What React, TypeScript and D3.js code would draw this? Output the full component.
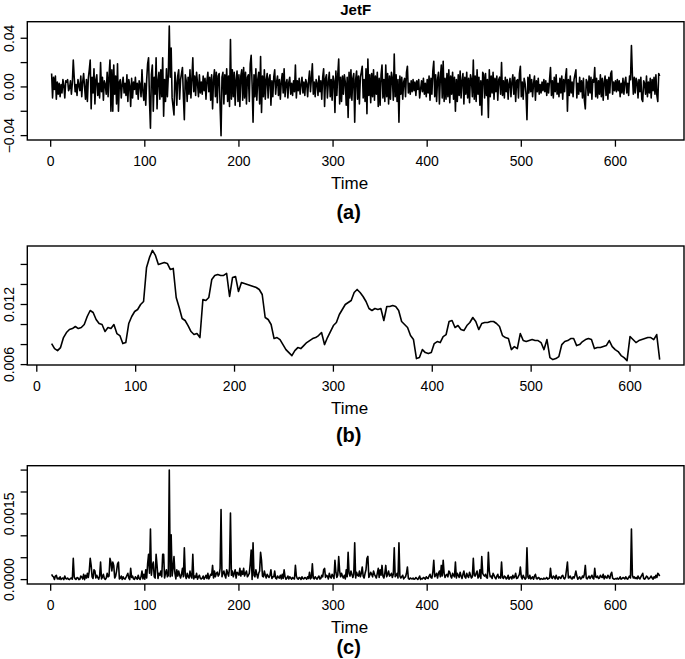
import React from 'react';
import * as d3 from 'd3';

// JetF daily returns, t = 1..647, in units of 0.001
const jetfReturns = [
  11, -9, 8, -2, 9, -10, 4, -6, 3, -8,
  2, -5, 6, 1, -9, 5, 4, 6, -3, -1,
  5, -6, 3, 22, 8, -4, 2, -7, 6, 1,
  -3, 9, -8, 4, 11, 0, -10, 6, -12, 7,
  14, 22, -18, 8, -5, 15, -14, 6, 10, -7,
  3, -9, 20, -4, 8, -11, 5, 2, -6, 12,
  -8, 9, 22, -20, 14, -20, 18, -6, 9, -14,
  19, -20, 4, 6, -9, 2, 8, -5, 3, -7,
  10, -12, 6, 1, -16, 7, -9, 4, -2, 8,
  -6, 3, -10, 5, 2, -8, 14, -4, -11, 3,
  -15, 6, 19, 24, -12, -34, 10, 18, -20, 8,
  -6, 24, -18, 5, 12, -10, 14, -8, 24, -24,
  6, -12, 15, -8, 10, 50, 8, 32, -9, -16,
  -23, 12, 4, -15, 9, 14, -10, 6, 11, 16,
  -8, -27, 10, 5, -12, 8, -6, 14, -9, 6,
  24, -4, 9, -7, 12, 3, -8, 10, -5, 4,
  -6, 9, -3, 7, -10, 5, 12, -4, 8, -11,
  10, -18, 6, 14, -8, 12, -13, 9, 11, -16,
  -40, 8, 12, -14, 10, -6, 15, -12, 9, -16,
  39, -10, 14, -8, 12, -15, 6, 13, -12, 10,
  -16, 9, 14, -11, 16, -9, 12, -14, 8, 10,
  -12, 19, 26, 2, -29, 10, -8, 15, -11, 6,
  12, -14, 25, -21, 9, -8, 14, -10, 6, 11,
  -9, 7, 10, -15, 5, -8, 8, 14, -6, 4,
  9, -7, 6, -10, 4, 11, -5, 15, -8, 3,
  6, -9, 4, 8, -6, 3, -7, 5, -4, 18,
  -9, 5, -3, 7, -6, 2, 8, -5, 4, -7,
  6, 3, -8, 5, 13, -4, 7, 19, -6, 4,
  -8, 6, 3, -7, 9, -4, 5, -10, 8, 15,
  -16, 7, 10, -9, 4, 12, -8, 6, -11, 9,
  5, -21, 13, -7, 10, 23, -14, 8, -12, 9,
  -6, 10, 4, -15, 8, -25, 12, -9, 14, -11,
  7, 11, -29, 6, 13, -10, 9, -14, 8, 12,
  17, -9, 6, -12, 15, -22, 23, -7, 10, -13,
  11, -8, 14, -11, 9, -6, 12, -16, 7, -15,
  10, 18, -9, 6, -12, 18, -8, 11, -14, 9,
  -10, 12, 7, -11, 27, -8, 10, -12, 6, -29,
  9, -6, 8, -10, 4, 7, -8, 12, 17, -5,
  3, -6, 5, -4, 6, -3, 4, -7, 5, -2,
  6, -9, -2, 5, -4, 7, -6, 3, -8, 6,
  -5, 9, -11, 7, -6, 13, 21, -8, 10, -12,
  6, 12, -14, 8, 18, -9, 21, -12, 7, -10,
  11, -8, 14, -13, 9, -6, 12, -10, 8, -20,
  6, -12, 10, -7, 13, -9, 5, 11, -14, 8,
  -6, 12, -9, 7, -13, 10, 6, -8, 22, -10,
  9, -12, 14, -6, 8, -15, 5, -23, 12, 10,
  -9, 11, -7, 6, -25, 14, -8, 9, -5, 12,
  -10, 7, -4, 9, -11, 6, 8, -6, 20, -7,
  5, -9, 8, -4, 6, -10, 3, 7, -8, 4,
  10, -6, 8, -12, 5, 6, -9, 11, 17, -8,
  4, -10, 7, 3, -6, -27, 8, -5, 10, -4,
  6, -8, 3, 9, -11, 5, -4, 7, -6, 2,
  -5, 4, -3, 6, -4, 5, -7, 3, -5, 6,
  16, -7, 5, -9, 8, -4, 10, -6, 3, -8,
  7, -5, 9, -10, 6, -4, 8, 15, -20, 6,
  -7, 9, -5, 4, -8, 6, 10, 14, -9, 3,
  -6, 8, -4, 5, -9, 7, -11, -18, 6, 4,
  -7, 9, -5, 8, -10, 6, 4, 16, -8, 7,
  -9, 5, -6, 10, -8, 7, -11, 4, 9, -7,
  6, -10, 8, -5, 11, 13, -6, 4, -3, 5,
  -4, 6, -3, 5, -8, 3, -5, 7, -6, 4,
  8, -5, 3, -7, 9, 6, 34, 10, -6, 8,
  -5, 7, 4, -9, 6, -4, 8, -10, -12, 5,
  3, -6, 9, -8, 4, -5, 7, -9, 6, -3,
  8, -6, 10, -7, -12, 11, 9,
];

// rolling standard deviation, every 3rd day from t = 15, in units of 0.0001
const volStart = 15;
const volStep = 3;
const jetfVol = [
  81, 76, 74, 77, 87, 92, 95, 96, 98, 96,
  97, 100, 108, 114, 112, 105, 101, 100, 93, 97,
  96, 100, 91, 89, 81, 82, 101, 108, 113, 115,
  120, 123, 157, 167, 174, 169, 160, 161, 162, 161,
  155, 156, 127, 117, 106, 104, 99, 93, 90, 91,
  87, 125, 124, 127, 145, 149, 150, 149, 149, 151,
  128, 147, 148, 133, 142, 141, 140, 139, 138, 137,
  135, 130, 107, 105, 100, 86, 87, 85, 80, 75,
  72, 69, 74, 77, 76, 79, 82, 84, 86, 87,
  89, 92, 80, 87, 93, 99, 102, 110, 115, 120,
  122, 124, 132, 135, 132, 128, 123, 116, 114, 116,
  115, 116, 104, 118, 118, 119, 118, 114, 103, 100,
  97, 89, 85, 66, 67, 75, 72, 71, 72, 81,
  83, 82, 88, 90, 103, 104, 97, 99, 95, 94,
  99, 102, 107, 103, 95, 101, 102, 102, 103, 103,
  101, 98, 89, 87, 86, 75, 78, 76, 91, 84,
  83, 84, 85, 84, 84, 82, 75, 85, 67, 65,
  66, 68, 80, 83, 84, 86, 86, 79, 80, 83,
  85, 86, 85, 76, 77, 77, 78, 79, 84, 78,
  75, 73, 69, 67, 64, 88, 85, 82, 84, 85,
  86, 87, 87, 85, 90, 65,
];

// squared returns, t = 1..647, in units of 1e-6
const jetfSquared = [
  121, 81, 64, 4, 81, 100, 16, 36, 9, 64,
  4, 25, 36, 1, 81, 25, 16, 36, 9, 1,
  25, 36, 9, 484, 64, 16, 4, 49, 36, 1,
  9, 81, 64, 16, 121, 0, 100, 36, 144, 49,
  196, 484, 324, 64, 25, 225, 196, 36, 100, 49,
  9, 81, 400, 16, 64, 121, 25, 4, 36, 144,
  64, 81, 484, 400, 196, 400, 324, 36, 81, 196,
  361, 400, 16, 36, 81, 4, 64, 25, 9, 49,
  100, 144, 36, 1, 256, 49, 81, 16, 4, 64,
  36, 9, 100, 25, 4, 64, 196, 16, 121, 9,
  225, 36, 361, 576, 144, 1156, 100, 324, 400, 64,
  36, 576, 324, 25, 144, 100, 196, 64, 576, 576,
  36, 144, 225, 64, 100, 2500, 64, 1024, 81, 256,
  529, 144, 16, 225, 81, 196, 100, 36, 121, 256,
  64, 729, 100, 25, 144, 64, 36, 196, 81, 36,
  576, 16, 81, 49, 144, 9, 64, 100, 25, 16,
  36, 81, 9, 49, 100, 25, 144, 16, 64, 121,
  100, 324, 36, 196, 64, 144, 169, 81, 121, 256,
  1600, 64, 144, 196, 100, 36, 225, 144, 81, 256,
  1521, 100, 196, 64, 144, 225, 36, 169, 144, 100,
  256, 81, 196, 121, 256, 81, 144, 196, 64, 100,
  144, 361, 676, 4, 841, 100, 64, 225, 121, 36,
  144, 196, 625, 441, 81, 64, 196, 100, 36, 121,
  81, 49, 100, 225, 25, 64, 64, 196, 36, 16,
  81, 49, 36, 100, 16, 121, 25, 225, 64, 9,
  36, 81, 16, 64, 36, 9, 49, 25, 16, 324,
  81, 25, 9, 49, 36, 4, 64, 25, 16, 49,
  36, 9, 64, 25, 169, 16, 49, 361, 36, 16,
  64, 36, 9, 49, 81, 16, 25, 100, 64, 225,
  256, 49, 100, 81, 16, 144, 64, 36, 121, 81,
  25, 441, 169, 49, 100, 529, 196, 64, 144, 81,
  36, 100, 16, 225, 64, 625, 144, 81, 196, 121,
  49, 121, 841, 36, 169, 100, 81, 196, 64, 144,
  289, 81, 36, 144, 225, 484, 529, 49, 100, 169,
  121, 64, 196, 121, 81, 36, 144, 256, 49, 225,
  100, 324, 81, 36, 144, 324, 64, 121, 196, 81,
  100, 144, 49, 121, 729, 64, 100, 144, 36, 841,
  81, 36, 64, 100, 16, 49, 64, 144, 289, 25,
  9, 36, 25, 16, 36, 9, 16, 49, 25, 4,
  36, 81, 4, 25, 16, 49, 36, 9, 64, 36,
  25, 81, 121, 49, 36, 169, 441, 64, 100, 144,
  36, 144, 196, 64, 324, 81, 441, 144, 49, 100,
  121, 64, 196, 169, 81, 36, 144, 100, 64, 400,
  36, 144, 100, 49, 169, 81, 25, 121, 196, 64,
  36, 144, 81, 49, 169, 100, 36, 64, 484, 100,
  81, 144, 196, 36, 64, 225, 25, 529, 144, 100,
  81, 121, 49, 36, 625, 196, 64, 81, 25, 144,
  100, 49, 16, 81, 121, 36, 64, 36, 400, 49,
  25, 81, 64, 16, 36, 100, 9, 49, 64, 16,
  100, 36, 64, 144, 25, 36, 81, 121, 289, 64,
  16, 100, 49, 9, 36, 729, 64, 25, 100, 16,
  36, 64, 9, 81, 121, 25, 16, 49, 36, 4,
  25, 16, 9, 36, 16, 25, 49, 9, 25, 36,
  256, 49, 25, 81, 64, 16, 100, 36, 9, 64,
  49, 25, 81, 100, 36, 16, 64, 225, 400, 36,
  49, 81, 25, 16, 64, 36, 100, 196, 81, 9,
  36, 64, 16, 25, 81, 49, 121, 324, 36, 16,
  49, 81, 25, 64, 100, 36, 16, 256, 64, 49,
  81, 25, 36, 100, 64, 49, 121, 16, 81, 49,
  36, 100, 64, 25, 121, 169, 36, 16, 9, 25,
  16, 36, 9, 25, 64, 9, 25, 49, 36, 16,
  64, 25, 9, 49, 81, 36, 1156, 100, 36, 64,
  25, 49, 16, 81, 36, 16, 64, 100, 144, 25,
  9, 36, 81, 64, 16, 25, 49, 81, 36, 9,
  64, 36, 100, 49, 144, 121, 81,
];

const timeTicks = [0, 100, 200, 300, 400, 500, 600];
const retTicks = [-0.04, -0.02, 0, 0.02, 0.04];
const retTickLabels = ['\u22120.04', '', '0.00', '', '0.04'];
const volTicks = [0.006, 0.008, 0.01, 0.012, 0.014, 0.016];
const volTickLabels = ['0.006', '', '', '0.012', '', ''];
const sqTicks = [0, 0.0005, 0.001, 0.0015, 0.002, 0.0025];
const sqTickLabels = ['0.0000', '', '', '0.0015', '', ''];

const W = 685;
const H = 659;
const boxLeft = 27.3;
const boxRight = 684;
const FONT = '"Liberation Sans", Arial, Helvetica, sans-serif';

// R style axis range: data range stretched by 4% on both sides
const padded = (ext: [number, number]): [number, number] => {
  const r = ext[1] - ext[0];
  return [ext[0] - 0.04 * r, ext[1] + 0.04 * r];
};

interface PanelProps {
  t: number[];
  v: number[];
  top: number;
  bottom: number;
  yTicks: number[];
  yLabels: string[];
  tag: string;
  tagY: number;
  title?: string;
}

const Panel: React.FC<PanelProps> = ({ t, v, top, bottom, yTicks, yLabels, tag, tagY, title }) => {
  const x = d3.scaleLinear()
    .domain(padded(d3.extent(t) as [number, number]))
    .range([boxLeft, boxRight]);
  const y = d3.scaleLinear()
    .domain(padded(d3.extent(v) as [number, number]))
    .range([bottom, top]);
  const line = d3.line<number>()
    .x((_, i) => x(t[i]))
    .y(d => y(d));
  const tick = 6.7;
  const mid = (boxLeft + boxRight) / 2;

  return (
    <g>
      {title && (
        <text x={mid} y={top - 7} textAnchor="middle" fontWeight="bold" fontSize={15}>{title}</text>
      )}
      <path d={line(v) || ''} fill="none" stroke="#000" strokeWidth={1.6} strokeLinejoin="round" />
      <rect x={boxLeft} y={top} width={boxRight - boxLeft} height={bottom - top}
        fill="none" stroke="#000" strokeWidth={1.4} />
      {timeTicks.map(d => (
        <g key={d} transform={`translate(${x(d)},${bottom})`}>
          <line y2={tick} stroke="#000" strokeWidth={1.3} />
          <text y={25.5} textAnchor="middle" fontSize={14}>{d}</text>
        </g>
      ))}
      {yTicks.map((d, i) => (
        <g key={d} transform={`translate(${boxLeft},${y(d)})`}>
          <line x2={-tick} stroke="#000" strokeWidth={1.3} />
          {yLabels[i] && (
            <text transform="translate(-13.5,0) rotate(-90)" textAnchor="middle" fontSize={14}>{yLabels[i]}</text>
          )}
        </g>
      ))}
      <text x={mid - 6} y={bottom + 49} textAnchor="middle" fontSize={17}>Time</text>
      <text x={mid - 7} y={tagY} textAnchor="middle" fontSize={20} fontWeight="bold">{tag}</text>
    </g>
  );
};

export default function App() {
  const retTime = jetfReturns.map((_, i) => i + 1);
  const volTime = jetfVol.map((_, i) => volStart + i * volStep);
  return (
    <svg width={W} height={H} style={{ position: 'absolute', left: 0, top: 0, background: '#fff' }}
      fontFamily={FONT} fill="#000">
      <Panel t={retTime} v={jetfReturns.map(d => d / 1000)} top={21.7} bottom={140}
        yTicks={retTicks} yLabels={retTickLabels} tag="(a)" tagY={219} title="JetF" />
      <Panel t={volTime} v={jetfVol.map(d => d / 10000)} top={246} bottom={365}
        yTicks={volTicks} yLabels={volTickLabels} tag="(b)" tagY={442} />
      <Panel t={retTime} v={jetfSquared.map(d => d / 1e6)} top={465.7} bottom={584}
        yTicks={sqTicks} yLabels={sqTickLabels} tag="(c)" tagY={654} />
    </svg>
  );
}
